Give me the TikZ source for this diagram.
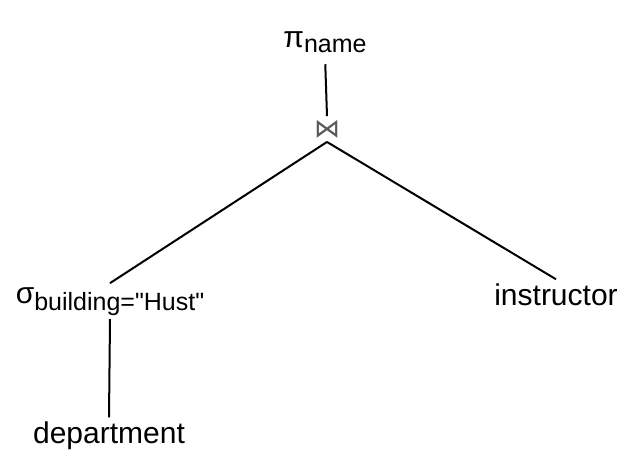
\documentclass[tikz,border=0pt]{standalone}
\usepackage{fontspec}
\setmainfont{Liberation Sans}
\newfontfamily\symfont{DejaVu Sans}
\usetikzlibrary{positioning}

\newcommand{\lowsub}[2][3pt]{\raisebox{-#1}{\fontsize{12.5}{15}\selectfont #2}}

\begin{document}
\begin{tikzpicture}[
    x=0.5pt, y=-0.5pt,
    line width=1pt,
    op/.style={inner sep=1.5pt, anchor=base, font=\fontsize{15}{18}\selectfont},
    rel/.style={inner sep=1.5pt, anchor=base, font=\fontsize{15}{18}\selectfont},
    joinop/.style={inner sep=1.5pt, text=black!65, font=\symfont\fontsize{13}{15}\selectfont}
]
\useasboundingbox (0,0) rectangle (637,462);

\node[op] (proj) at (325,47) {π\lowsub[2.5pt]{name}};
\node[joinop] (join) at (327,129) {⋈};
\node[op] (sel) at (110,303) {σ\lowsub[3.5pt]{building=\textquotedbl Hust\textquotedbl}};
\node[rel] (instr) at (556,305) {instructor};
\node[rel] (dept) at (109,443) {department};

\draw[shorten <=4pt] (proj.south) -- (join.north);
\draw (join.south) -- (sel.north);
\draw (join.south) -- (instr.north);
\draw (sel.south) -- (dept.north);
\end{tikzpicture}
\end{document}
